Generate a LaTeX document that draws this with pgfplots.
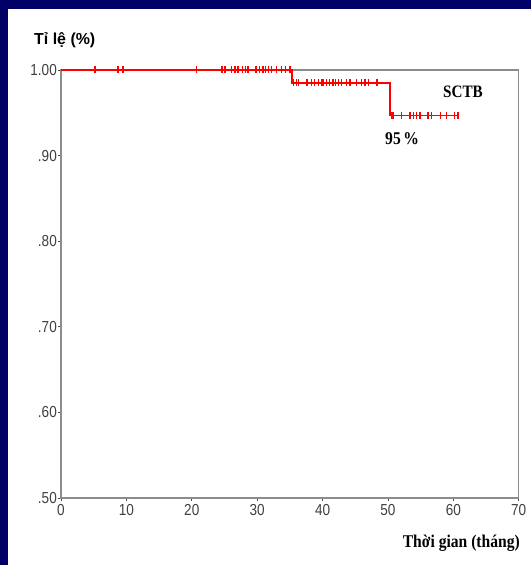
\documentclass[border=0pt]{standalone}
\usepackage{fontspec}
\setmainfont{Liberation Sans}
\newfontfamily\serifb{Liberation Serif}
\usepackage{graphicx}
\usepackage{pgfplots}
\pgfplotsset{compat=1.18}
\definecolor{navybg}{RGB}{0,0,102}
\definecolor{kmred}{RGB}{255,0,0}
\newcommand{\tl}[1]{\scalebox{0.85}[1]{\fontsize{16}{16}\selectfont #1}}
\begin{document}
\begin{tikzpicture}
\fill[navybg] (0bp,0bp) rectangle (531bp,565bp);
\fill[white] (8bp,0bp) rectangle (531bp,556bp);
\begin{axis}[
  at={(61bp,67bp)}, anchor=south west,
  scale only axis, width=457.7bp, height=428bp,
  xmin=0, xmax=70, ymin=0.5, ymax=1.0,
  xtick={0,10,20,30,40,50,60,70},
  xticklabels={\tl{0},\tl{10},\tl{20},\tl{30},\tl{40},\tl{50},\tl{60},\tl{70}},
  ytick={0.5,0.6,0.7,0.8,0.9,1.0},
  yticklabels={\tl{.50},\tl{.60},\tl{.70},\tl{.80},\tl{.90},\tl{1.00}},
  axis line style={draw=black!45, line width=1.2bp},
  tick style={draw=black!70, line width=0.8bp},
  tick align=outside, major tick length=3bp, tick pos=left,
  xticklabel style={text=black!75, inner sep=1bp, yshift=-2.5bp},
  yticklabel style={text=black!75, inner sep=1bp},
  axis on top=false,
  clip=false,
]
\addplot[draw=kmred, color=kmred, line width=1.4bp, const plot, mark=none] coordinates {
  (0,1.0) (35.3,1.0) (35.3,0.985) (50.3,0.985) (50.3,0.947) (60.7,0.947)
};
\addplot[draw=kmred, color=kmred, only marks, mark=|, mark size=3.5bp, mark options={draw=kmred, line width=1.4bp}] coordinates {
  (5.2,1.0) (8.7,1.0) (9.5,1.0) (20.7,1.0)
  (24.6,1.0) (25.1,1.0) (26.1,1.0) (26.6,1.0) (27.1,1.0) (27.8,1.0) (28.2,1.0) (28.6,1.0)
  (29.8,1.0) (30.4,1.0) (30.9,1.0) (31.3,1.0) (31.7,1.0) (32.2,1.0) (33.0,1.0) (33.7,1.0) (34.3,1.0) (35.0,1.0)
  (35.6,0.985) (36.0,0.985) (36.3,0.985) (37.6,0.985) (38.3,0.985) (38.8,0.985) (39.4,0.985) (39.8,0.985) (40.1,0.985)
  (40.6,0.985) (41.1,0.985) (41.6,0.985) (42.0,0.985) (42.4,0.985) (42.9,0.985) (43.7,0.985) (44.2,0.985)
  (45.2,0.985) (46.0,0.985) (46.5,0.985) (47.0,0.985) (48.3,0.985)
  (50.6,0.947) (50.8,0.947) (52.1,0.947) (53.4,0.947) (53.9,0.947) (54.4,0.947) (54.9,0.947)
  (56.1,0.947) (56.7,0.947) (58.0,0.947) (59.0,0.947) (60.2,0.947) (60.7,0.947)
};
\end{axis}
\node[anchor=base west, inner sep=0] at (34bp,520bp) {\fontsize{16}{16}\selectfont\bfseries Tỉ lệ (\%)};
\node[anchor=base west, inner sep=0] at (443bp,467bp) {\scalebox{0.87}[1]{\serifb\bfseries\fontsize{17.5}{17.5}\selectfont SCTB}};
\node[anchor=base west, inner sep=0] at (385bp,420bp) {\scalebox{0.87}[1]{\serifb\bfseries\fontsize{18}{18}\selectfont 95\,\%}};
\node[anchor=base east, inner sep=0] at (520bp,18bp) {\scalebox{0.87}[1]{\serifb\bfseries\fontsize{18}{18}\selectfont Thời gian (tháng)}};
\end{tikzpicture}
\end{document}
